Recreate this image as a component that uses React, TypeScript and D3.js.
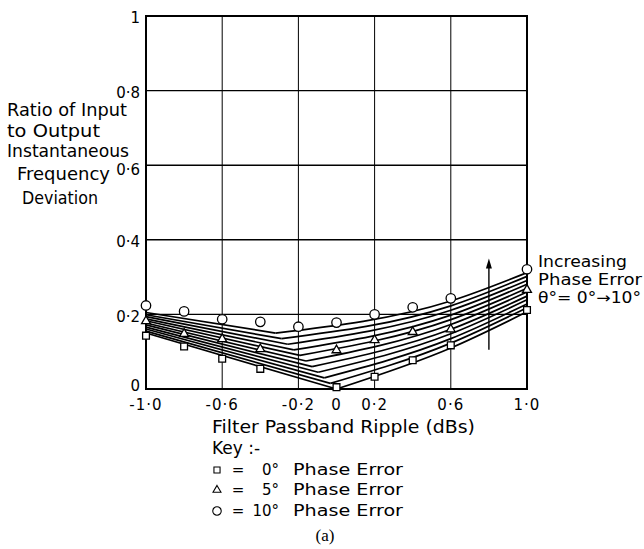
import React from "react";
import * as d3 from "d3";

// axis ticks
const xTicks = [-1.0, -0.6, -0.2, 0, 0.2, 0.6, 1.0];
const xTickLabels = ["-1·0", "-0·6", "-0·2", "0", "0·2", "0·6", "1·0"];
const xGrid = [-0.6, -0.2, 0.2, 0.6];
const yTicks = [0, 0.2, 0.4, 0.6, 0.8, 1];
const yTickLabels = ["0", "0·2", "0·4", "0·6", "0·8", "1"];
const yGrid = [0.2, 0.4, 0.6, 0.8];

// measured points
const ripple0 = [-1.0, -0.8, -0.6, -0.4, 0, 0.2, 0.4, 0.6, 1.0];
const ratio0 = [0.143, 0.114, 0.081, 0.054, 0.005, 0.033, 0.077, 0.117, 0.212];
const ripple5 = [-1.0, -0.8, -0.6, -0.4, 0, 0.2, 0.4, 0.6, 1.0];
const ratio5 = [0.182, 0.148, 0.134, 0.107, 0.104, 0.131, 0.153, 0.16, 0.266];
const ripple10 = [-1.0, -0.8, -0.6, -0.4, -0.2, 0, 0.2, 0.4, 0.6, 1.0];
const ratio10 = [0.224, 0.208, 0.187, 0.18, 0.167, 0.178, 0.2, 0.219, 0.243, 0.321];

// theory curves, theta = 0..10 deg: value at -1.0, kink point, value at 0.6 and at 1.0
const curveStart = [0.15, 0.155, 0.161, 0.166, 0.172, 0.177, 0.183, 0.188, 0.194, 0.199, 0.205];
const kinkX = [0, -0.032, -0.064, -0.096, -0.128, -0.16, -0.192, -0.224, -0.256, -0.288, -0.32];
const kinkY = [0, 0.015, 0.03, 0.045, 0.06, 0.075, 0.09, 0.105, 0.12, 0.135, 0.15];
const curveAt06 = [0.11, 0.123, 0.135, 0.148, 0.16, 0.173, 0.186, 0.198, 0.211, 0.223, 0.236];
const curveEnd = [0.207, 0.218, 0.228, 0.239, 0.249, 0.26, 0.27, 0.281, 0.291, 0.302, 0.312];

const arrowX = 0.8;
const arrowFrom = 0.105;
const arrowTo = 0.35;

const W = 644;
const H = 549;
const FONT = "DejaVu Sans, sans-serif";

const App = () => {
  const x = d3.scaleLinear().domain([-1, 1]).range([146, 527]);
  const y = d3.scaleLinear().domain([0, 1]).range([389, 16]);

  const straight = d3
    .line<[number, number]>()
    .x((d) => x(d[0]))
    .y((d) => y(d[1]));
  const smooth = d3
    .line<[number, number]>()
    .x((d) => x(d[0]))
    .y((d) => y(d[1]))
    .curve(d3.curveMonotoneX);

  const sq = d3.symbol().type(d3.symbolSquare).size(46)();
  const tri = d3.symbol().type(d3.symbolTriangle).size(34)();
  const circ = d3.symbol().type(d3.symbolCircle).size(70)();

  const marks = (xs: number[], ys: number[], p: string | null, key: string) =>
    xs.map((v, i) => (
      <path
        key={key + i}
        d={p || ""}
        transform={`translate(${x(v)},${y(ys[i])})`}
        fill="#fff"
        stroke="#000"
        strokeWidth={1.3}
      />
    ));

  const textStyle = { fontFamily: FONT, fontSize: 15, fill: "#000" } as const;
  const bigText = { ...textStyle, fontSize: 17 } as const;

  // small nudges so labels sit like the hand lettering
  const yLabelShift = (v: number) => (v === 0 ? -3 : v === 0.6 ? 5 : 2);

  return (
    <div style={{ position: "absolute", left: 0, top: 0 }}>
      <svg width={W} height={H} style={{ display: "block", background: "#fff" }}>
        {/* grid */}
        {xGrid.map((v) => (
          <line key={"gx" + v} x1={x(v)} x2={x(v)} y1={y(0)} y2={y(1)} stroke="#000" strokeWidth={1} />
        ))}
        {yGrid.map((v) => (
          <line key={"gy" + v} x1={x(-1)} x2={x(1)} y1={y(v)} y2={y(v)} stroke="#000" strokeWidth={1.4} />
        ))}
        <rect x={x(-1)} y={y(1)} width={x(1) - x(-1)} height={y(0) - y(1)} fill="none" stroke="#000" strokeWidth={2} />

        {/* theory curves */}
        {curveStart.map((s, i) => (
          <g key={"c" + i} fill="none" stroke="#000" strokeWidth={1.7}>
            <path d={straight([[-1, s], [kinkX[i], kinkY[i]]]) || ""} />
            <path d={smooth([[kinkX[i], kinkY[i]], [0.6, curveAt06[i]], [1, curveEnd[i]]]) || ""} />
          </g>
        ))}

        {/* arrow */}
        <line x1={x(arrowX)} x2={x(arrowX)} y1={y(arrowFrom)} y2={y(arrowTo) + 8} stroke="#000" strokeWidth={1.4} />
        <path
          d={`M${x(arrowX)},${y(arrowTo)} L${x(arrowX) - 3},${y(arrowTo) + 10} L${x(arrowX) + 3},${y(arrowTo) + 10} Z`}
          fill="#000"
        />

        {/* points */}
        {marks(ripple0, ratio0, sq, "s")}
        {marks(ripple5, ratio5, tri, "t")}
        {marks(ripple10, ratio10, circ, "o")}

        {/* tick labels */}
        {yTicks.map((v, i) => (
          <text key={"yt" + v} x={140} y={y(v) + yLabelShift(v)} dy="0.35em" textAnchor="end" style={textStyle}>
            {yTickLabels[i]}
          </text>
        ))}
        {xTicks.map((v, i) => (
          <text key={"xt" + v} x={x(v)} y={410} textAnchor="middle" style={textStyle} letterSpacing={1}>
            {xTickLabels[i]}
          </text>
        ))}

        {/* y axis title */}
        <text x={7} y={116} style={bigText} textLength={120} lengthAdjust="spacingAndGlyphs">Ratio of Input</text>
        <text x={7} y={137} style={bigText} textLength={93} lengthAdjust="spacingAndGlyphs">to Output</text>
        <text x={7} y={157} style={bigText} textLength={122} lengthAdjust="spacingAndGlyphs">Instantaneous</text>
        <text x={17} y={180} style={bigText} textLength={93} lengthAdjust="spacingAndGlyphs">Frequency</text>
        <text x={22} y={204} style={bigText} textLength={76} lengthAdjust="spacingAndGlyphs">Deviation</text>

        {/* annotation */}
        <text x={538} y={267} style={textStyle} textLength={89} lengthAdjust="spacingAndGlyphs">Increasing</text>
        <text x={538} y={285} style={textStyle} textLength={104} lengthAdjust="spacingAndGlyphs">Phase Error</text>
        <text x={538} y={303} style={textStyle} textLength={103} lengthAdjust="spacingAndGlyphs">θ°= 0°→10°</text>

        {/* x axis title and key */}
        <text x={212} y={433} style={bigText} textLength={263} lengthAdjust="spacingAndGlyphs">Filter Passband Ripple (dBs)</text>
        <text x={212} y={454} style={bigText}>Key :-</text>
        {[
          { p: sq, label: "0°", cy: 470 },
          { p: tri, label: "5°", cy: 490 },
          { p: circ, label: "10°", cy: 511 },
        ].map((k) => (
          <g key={k.label}>
            <path d={k.p || ""} transform={`translate(217,${k.cy}) scale(0.9)`} fill="#fff" stroke="#000" strokeWidth={1.2} />
            <text x={238} y={k.cy + 5} textAnchor="middle" style={textStyle}>=</text>
            <text x={279} y={k.cy + 5} textAnchor="end" style={textStyle}>{k.label}</text>
            <text x={293} y={k.cy + 5} style={textStyle} textLength={110} lengthAdjust="spacingAndGlyphs">Phase Error</text>
          </g>
        ))}
        <text x={325} y={541} textAnchor="middle" style={{ fontFamily: "Liberation Serif, serif", fontSize: 17, fill: "#000" }}>
          (a)
        </text>
      </svg>
    </div>
  );
};

export default App;
